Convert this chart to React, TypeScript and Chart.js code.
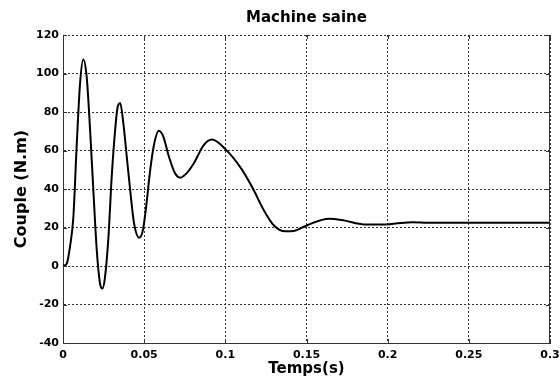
import React, { useEffect, useRef } from "react";
import { Chart, registerables } from "chart.js";

Chart.register(...registerables);

// Time (s)
const timeValues: number[] = [
  0, 0.0023, 0.0043, 0.0064, 0.0084, 0.0105, 0.0125, 0.0146, 0.0167, 0.0187,
  0.0208, 0.0228, 0.0243, 0.0259, 0.028, 0.03, 0.0321, 0.0335, 0.0352, 0.0372,
  0.0393, 0.0414, 0.0438, 0.0469, 0.0492, 0.0512, 0.0537, 0.0562, 0.059, 0.0619,
  0.065, 0.0691, 0.0722, 0.0765, 0.0805, 0.0866, 0.0918, 0.1, 0.1093, 0.1165,
  0.1237, 0.1298, 0.137, 0.1422, 0.1504, 0.1638, 0.173, 0.1854, 0.1957, 0.208,
  0.215, 0.225, 0.25, 0.3,
];
// Torque (N.m)
const torqueValues: number[] = [
  0, 1.2, 10, 25.6, 62, 94.8, 107.3, 98.2, 70.5, 39.3,
  8.2, -9.1, -11.7, -5.6, 15.1, 46.3, 70.5, 81.8, 84.7, 74,
  56.6, 39.3, 22, 14.7, 18.5, 30.6, 49.7, 63.6, 70.2, 67,
  57.5, 48, 45.9, 48.5, 53.2, 62.7, 65.7, 60.7, 51.2, 41,
  29, 21.2, 18, 18.2, 21.2, 24.6, 23.7, 21.6, 21.5, 22.3,
  22.7, 22.5, 22.5, 22.5,
];

const xTickValues: number[] = [0, 0.05, 0.1, 0.15, 0.2, 0.25, 0.3];
const xTickLabels: string[] = ["0", "0.05", "0.1", "0.15", "0.2", "0.25", "0.3"];
const yTickValues: number[] = [-40, -20, 0, 20, 40, 60, 80, 100, 120];
const yTickLabels: string[] = ["-40", "-20", "0", "20", "40", "60", "80", "100", "120"];

const chartTitle = "Machine saine";
const xTitle = "Temps(s)";
const yTitle = "Couple (N.m)";

const FONT = "'DejaVu Sans', sans-serif";

const boxPlugin = {
  id: "matlabBox",
  afterDatasetsDraw(chart: any) {
    const { ctx, chartArea: a, scales } = chart;
    const x = scales.x;
    const y = scales.y;
    const len = 4;
    ctx.save();
    ctx.strokeStyle = "#333";
    ctx.lineWidth = 1;
    ctx.setLineDash([]);
    ctx.beginPath();
    ctx.moveTo(Math.round(a.right) - 0.5, a.top);
    ctx.lineTo(Math.round(a.right) - 0.5, a.bottom);
    xTickValues.forEach((v) => {
      const px = Math.round(x.getPixelForValue(v)) + 0.5;
      ctx.moveTo(px, a.bottom);
      ctx.lineTo(px, a.bottom - len);
      ctx.moveTo(px, a.top);
      ctx.lineTo(px, a.top + len);
    });
    yTickValues.forEach((v) => {
      const py = Math.round(y.getPixelForValue(v)) + 0.5;
      ctx.moveTo(a.left, py);
      ctx.lineTo(a.left + len, py);
      ctx.moveTo(a.right, py);
      ctx.lineTo(a.right - len, py);
    });
    ctx.stroke();
    ctx.restore();
  },
};

export default function App() {
  const ref = useRef<HTMLCanvasElement | null>(null);

  useEffect(() => {
    if (!ref.current) return;
    const points = timeValues.map((t, i) => ({ x: t, y: torqueValues[i] }));
    const chart = new Chart(ref.current, {
      type: "line",
      data: {
        datasets: [
          {
            data: points,
            borderColor: "#000",
            borderWidth: 2,
            pointRadius: 0,
            fill: false,
            cubicInterpolationMode: "monotone",
          },
        ],
      },
      options: {
        animation: false,
        responsive: false,
        maintainAspectRatio: false,
        layout: { padding: { left: 0, right: 10, top: 0, bottom: 0 } },
        plugins: {
          legend: { display: false },
          tooltip: { enabled: false },
          title: {
            display: true,
            text: chartTitle,
            fullSize: false,
            color: "#000",
            font: { family: FONT, size: 15, weight: "bold" },
            padding: { top: 9, bottom: 8 },
          },
        },
        scales: {
          x: {
            type: "linear",
            min: 0,
            max: 0.3,
            afterBuildTicks: (scale: any) => {
              scale.ticks = xTickValues.map((v) => ({ value: v }));
            },
            afterFit: (scale: any) => {
              scale.height = 43;
              scale.paddingLeft = 0;
              scale.paddingRight = 0;
            },
            ticks: {
              color: "#000",
              font: { family: FONT, size: 11, weight: "bold" },
              padding: 6,
              maxRotation: 0,
              autoSkip: false,
              callback: (v: any) => {
                const i = xTickValues.findIndex((t) => Math.abs(t - Number(v)) < 1e-9);
                return i >= 0 ? xTickLabels[i] : "";
              },
            },
            grid: {
              color: "#333",
              lineWidth: 1,
              drawTicks: false,
            },
            border: { display: true, color: "#333", width: 1, dash: [2, 2] },
            title: {
              display: true,
              text: xTitle,
              color: "#000",
              font: { family: FONT, size: 15, weight: "bold" },
              padding: { top: 0, bottom: 8 },
            },
          },
          y: {
            type: "linear",
            min: -40,
            max: 120,
            afterBuildTicks: (scale: any) => {
              scale.ticks = yTickValues.map((v) => ({ value: v }));
            },
            afterFit: (scale: any) => {
              scale.width = 63;
            },
            ticks: {
              color: "#000",
              font: { family: FONT, size: 11, weight: "bold" },
              padding: 4,
              autoSkip: false,
              callback: (v: any) => {
                const i = yTickValues.findIndex((t) => Math.abs(t - Number(v)) < 1e-9);
                return i >= 0 ? yTickLabels[i] : "";
              },
            },
            grid: {
              color: "#333",
              lineWidth: 1,
              drawTicks: false,
            },
            border: { display: true, color: "#333", width: 1, dash: [2, 2] },
            title: {
              display: true,
              text: yTitle,
              color: "#000",
              font: { family: FONT, size: 16, weight: "bold" },
              padding: { top: 12, bottom: 0 },
            },
          },
        },
      },
      plugins: [boxPlugin],
    } as any);
    return () => chart.destroy();
  }, []);

  return (
    <div style={{ position: "absolute", left: 0, top: 0, width: 560, height: 386, background: "#fff" }}>
      <canvas ref={ref} width={560} height={386} style={{ display: "block", width: 560, height: 386 }} />
    </div>
  );
}
